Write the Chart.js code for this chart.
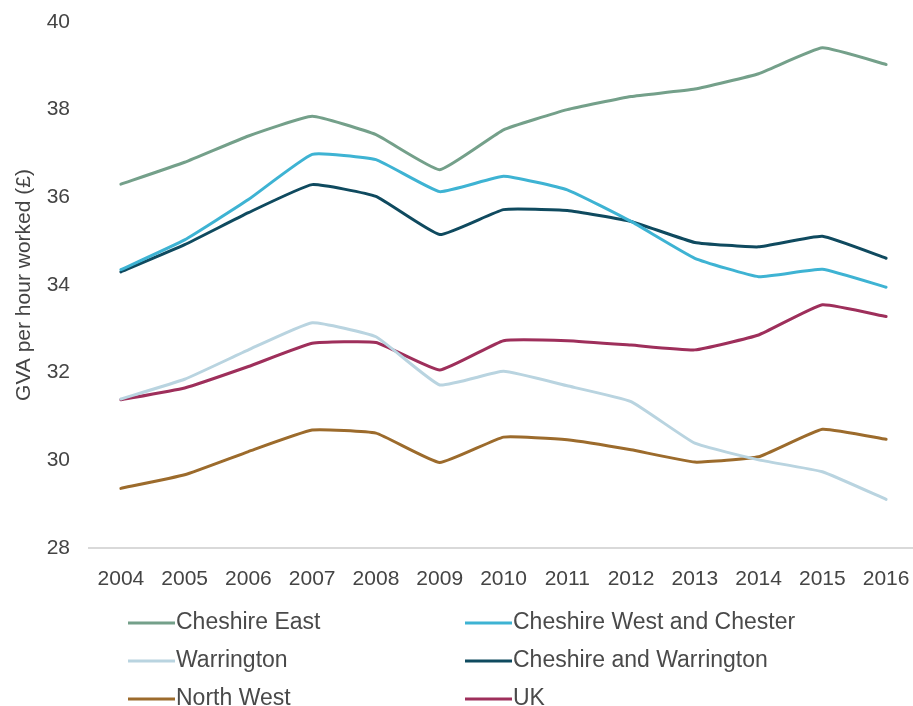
<!DOCTYPE html>
<html>
<head>
<meta charset="utf-8">
<script src="https://cdn.jsdelivr.net/npm/chart.js@4"></script>
<style>
  html, body { margin: 0; padding: 0; background: #ffffff; overflow: hidden; width: 913px; height: 706px; }
  #wrap { width: 920px; height: 706px; }
</style>
</head>
<body>
<div id="wrap"><canvas id="c" width="920" height="706"></canvas></div>
<script>
const years = ['2004','2005','2006','2007','2008','2009','2010','2011','2012','2013','2014','2015','2016'];
const cheshireEast = [36.3, 36.8, 37.4, 37.85, 37.43, 36.63, 37.54, 38.0, 38.3, 38.47, 38.82, 39.41, 39.03];
const cheshireWest = [34.35, 35.03, 35.95, 36.98, 36.86, 36.13, 36.48, 36.17, 35.45, 34.61, 34.19, 34.36, 33.95];
const warrington = [31.4, 31.85, 32.52, 33.14, 32.82, 31.72, 32.03, 31.70, 31.34, 30.39, 30.01, 29.74, 29.11];
const cheshireWarrington = [34.3, 34.92, 35.65, 36.29, 36.02, 35.15, 35.72, 35.70, 35.45, 34.97, 34.87, 35.11, 34.61];
const northWest = [29.36, 29.67, 30.2, 30.69, 30.62, 29.95, 30.53, 30.47, 30.24, 29.96, 30.08, 30.71, 30.48];
const uk = [31.38, 31.65, 32.14, 32.67, 32.69, 32.06, 32.73, 32.73, 32.63, 32.52, 32.86, 33.55, 33.28];
const yTicks = [28, 30, 32, 34, 36, 38, 40];
const yTitle = 'GVA per hour worked (£)';

const FONT = '"Liberation Sans", Arial, Helvetica, sans-serif';

function ds(label, data, color) {
  return {
    label, data,
    borderColor: color, backgroundColor: color,
    borderWidth: 3, pointRadius: 0, tension: 0.12,
    borderJoinStyle: 'round', borderCapStyle: 'round', fill: false
  };
}

const legendPlugin = {
  id: 'gridLegend',
  afterDraw(chart) {
    const ctx = chart.ctx;
    const area = chart.chartArea;
    const cols = [area.left + 39, area.left + 376];
    const rowY = [area.bottom + 75, area.bottom + 113, area.bottom + 151];
    ctx.save();
    ctx.font = '23px ' + FONT;
    ctx.textBaseline = 'middle';
    ctx.textAlign = 'left';
    chart.data.datasets.forEach((d, i) => {
      const x = cols[i % 2];
      const y = rowY[Math.floor(i / 2)];
      ctx.strokeStyle = d.borderColor;
      ctx.lineWidth = 3;
      ctx.lineCap = 'butt';
      ctx.beginPath();
      ctx.moveTo(x, y);
      ctx.lineTo(x + 47, y);
      ctx.stroke();
      ctx.fillStyle = '#4a4a4a';
      ctx.fillText(d.label, x + 48, y);
    });
    ctx.restore();
  }
};

new Chart(document.getElementById('c'), {
  type: 'line',
  data: {
    labels: years,
    datasets: [
      ds('Cheshire East', cheshireEast, '#74a08a'),
      ds('Cheshire West and Chester', cheshireWest, '#3eb3d3'),
      ds('Warrington', warrington, '#b9d4e0'),
      ds('Cheshire and Warrington', cheshireWarrington, '#0f4a5f'),
      ds('North West', northWest, '#9c6b2c'),
      ds('UK', uk, '#9e2f5b')
    ]
  },
  options: {
    responsive: false,
    animation: false,
    devicePixelRatio: 1,
    layout: { padding: { top: 22, right: 2, left: 0, bottom: 0 } },
    plugins: { legend: { display: false }, tooltip: { enabled: false } },
    scales: {
      x: {
        offset: true,
        grid: { display: false, drawTicks: false },
        border: { display: true, color: '#d9d9d9', width: 2 },
        ticks: { color: '#444444', font: { family: FONT, size: 21 }, padding: 19, maxRotation: 0, autoSkip: false },
        afterFit(scale) { scale.height = 158; scale.paddingLeft = 0; scale.paddingRight = 0; }
      },
      y: {
        min: 28, max: 40,
        afterBuildTicks(scale) { scale.ticks = yTicks.map(v => ({ value: v })); },
        grid: { display: false, drawTicks: false },
        border: { display: false },
        ticks: { color: '#444444', font: { family: FONT, size: 21 }, padding: 19 },
        title: { display: true, text: yTitle, color: '#444444', font: { family: FONT, size: 21 }, padding: { top: 12, bottom: 4 } },
        afterFit(scale) { scale.width = 89; scale.paddingTop = 0; scale.paddingBottom = 0; }
      }
    }
  },
  plugins: [legendPlugin]
});
</script>
</body>
</html>
